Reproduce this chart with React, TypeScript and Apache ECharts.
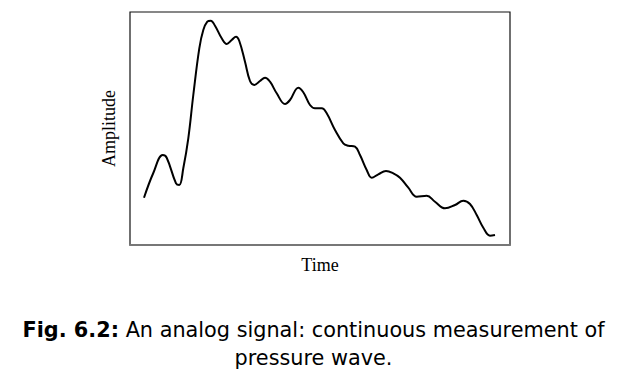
import React, { useEffect, useRef } from "react";
import * as echarts from "echarts";

const timeValues = [144, 153.3, 162.7, 166.7, 176, 179.3, 183.3, 188.3, 193.3, 199.3, 203.3, 207.3, 210.7, 215, 221.7, 226.7, 231.7, 236, 239.3, 245, 250, 254.3, 260, 265, 270, 276.7, 285, 290, 298.3, 303.3, 310, 315, 321.7, 326.7, 335, 343.3, 348.3, 355, 360, 366.7, 371.7, 378.3, 386, 393.3, 400, 408.3, 416.7, 426.7, 435, 445, 455, 463.3, 470, 476.7, 483.3, 490, 495];
const amplitudeValues = [47.3, 72, 90, 87.3, 61.7, 60, 76.7, 106.7, 150, 196.7, 215, 223.3, 224.3, 219.3, 206.7, 201, 205, 208.3, 204, 183.3, 164, 160, 164, 167.3, 163.3, 151.7, 141, 145, 157.3, 152.7, 140, 136.7, 136.7, 131.7, 115, 101.7, 99.3, 98.3, 90, 75, 67.3, 70.7, 74, 71.7, 67.3, 57.3, 48.3, 49.3, 43.3, 36.7, 40, 44.3, 41, 30, 17.3, 9.3, 10];

const xAxisName = "Time";
const yAxisName = "Amplitude";
const captionBold = "Fig. 6.2:";
const captionLine1 = " An analog signal: continuous measurement of";
const captionLine2 = "pressure wave.";

export default function App() {
  const ref = useRef<HTMLDivElement>(null);
  useEffect(() => {
    const chart = echarts.init(ref.current!, null, { renderer: "svg" });
    chart.setOption({
      animation: false,
      backgroundColor: "#fff",
      grid: {
        left: 130, right: 117, top: 12, bottom: 141,
        show: true, borderColor: "#111", borderWidth: 1.2,
      },
      xAxis: {
        type: "value", min: 130, max: 510,
        name: xAxisName, nameLocation: "middle", nameGap: 11,
        nameTextStyle: { fontFamily: "Liberation Serif", fontSize: 18, color: "#000", padding: [0, 0, 0, 0] },
        axisLine: { show: true, lineStyle: { color: "#777", width: 2 } },
        axisTick: { show: false }, axisLabel: { show: false }, splitLine: { show: false },
      },
      yAxis: {
        type: "value", min: 0, max: 233,
        name: yAxisName, nameLocation: "middle", nameGap: 12, nameRotate: 90,
        nameTextStyle: { fontFamily: "Liberation Serif", fontSize: 18, color: "#000" },
        axisLine: { show: false },
        axisTick: { show: false }, axisLabel: { show: false }, splitLine: { show: false },
      },
      series: [{
        type: "line",
        data: timeValues.map((t, i) => [t, amplitudeValues[i]]),
        smooth: 0.4,
        showSymbol: false,
        lineStyle: { color: "#000", width: 2 },
      }],
      graphic: [
        {
          type: "text", left: "center", top: 319,
          style: {
            text: `{b|${captionBold}}{n|${captionLine1}}`,
            rich: {
              b: { fontFamily: "DejaVu Sans", fontWeight: "bold", fontSize: 20.8, fill: "#000" },
              n: { fontFamily: "DejaVu Sans", fontSize: 20.8, fill: "#000" },
            },
          },
        },
        {
          type: "text", left: "center", top: 347,
          style: { text: captionLine2, fontFamily: "DejaVu Sans", fontSize: 20.8, fill: "#000" },
        },
      ],
    });
    return () => chart.dispose();
  }, []);
  return <div ref={ref} style={{ width: 627, height: 386, position: "absolute", left: 0, top: 0 }} />;
}
